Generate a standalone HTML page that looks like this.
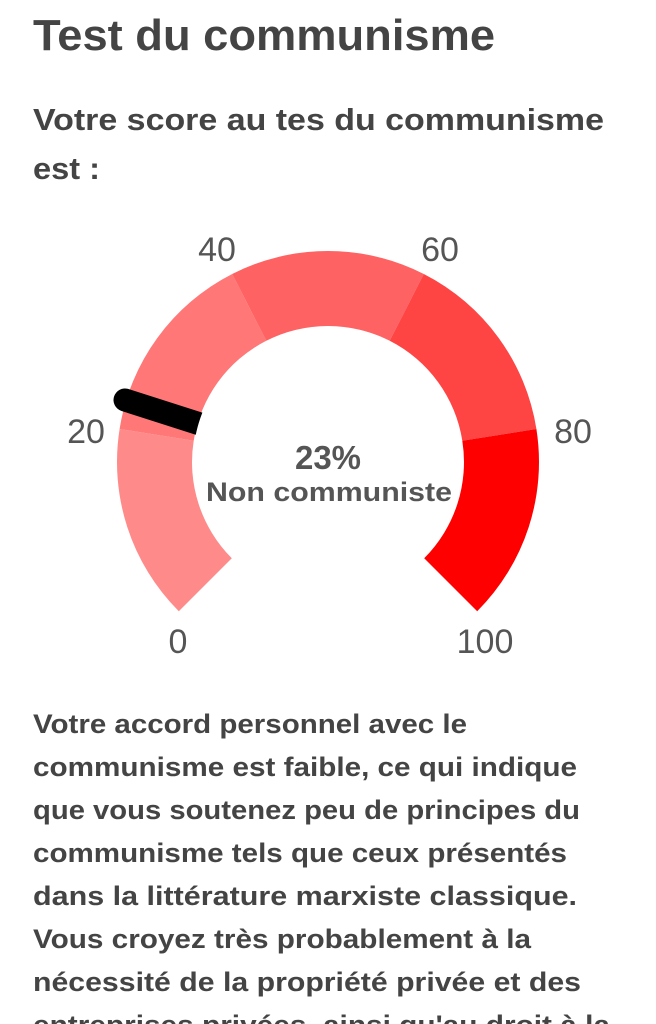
<!DOCTYPE html>
<html><head><meta charset="utf-8"><style>
html,body{margin:0;padding:0;background:#fff;width:656px;height:1024px;overflow:hidden}
svg{display:block}
text{font-family:"Liberation Sans",sans-serif;fill:#444}
.b{font-weight:bold}
.t{fill:#555;font-size:34px;text-anchor:middle}
</style></head><body>
<svg width="656" height="1024" viewBox="0 0 656 1024">
<text class="b" x="33" y="50" font-size="44" textLength="462" lengthAdjust="spacingAndGlyphs">Test du communisme</text>
<text class="b" x="33" y="130" font-size="31" textLength="571" lengthAdjust="spacingAndGlyphs">Votre score au tes du communisme</text>
<text class="b" x="33" y="179" font-size="31" textLength="67" lengthAdjust="spacingAndGlyphs">est :</text>

<path d="M178.8,611.2 A211,211 0 0 1 119.6,429.0 L193.7,440.7 A136,136 0 0 0 231.8,558.2 Z" fill="#ff8a8a"/>
<path d="M119.6,429.0 A211,211 0 0 1 232.2,274.0 L266.3,340.8 A136,136 0 0 0 193.7,440.7 Z" fill="#ff7777"/>
<path d="M232.2,274.0 A211,211 0 0 1 423.8,274.0 L389.7,340.8 A136,136 0 0 0 266.3,340.8 Z" fill="#ff6262"/>
<path d="M423.8,274.0 A211,211 0 0 1 536.4,429.0 L462.3,440.7 A136,136 0 0 0 389.7,340.8 Z" fill="#ff4444"/>
<path d="M536.4,429.0 A211,211 0 0 1 477.2,611.2 L424.2,558.2 A136,136 0 0 0 462.3,440.7 Z" fill="#ff0000"/>
<defs><clipPath id="c"><path d="M0,0 H656 V700 H0 Z M328,327 A135,135 0 1 0 328.01,327 Z" clip-rule="evenodd"/></clipPath></defs>
<path d="M125,400 L200,424" stroke="#000" stroke-width="23" stroke-linecap="round" clip-path="url(#c)"/>

<text class="b" x="328" y="469" font-size="33" text-anchor="middle" style="fill:#555">23%</text>
<text class="b" x="329" y="501" font-size="27" text-anchor="middle" textLength="246" lengthAdjust="spacingAndGlyphs" style="fill:#555">Non communiste</text>

<text class="t" x="178" y="653">0</text>
<text class="t" x="86" y="443">20</text>
<text class="t" x="217" y="261">40</text>
<text class="t" x="440" y="261">60</text>
<text class="t" x="573" y="443">80</text>
<text class="t" x="485" y="653">100</text>

<g font-size="27">
<text class="b" x="33" y="733" textLength="434" lengthAdjust="spacingAndGlyphs">Votre accord personnel avec le</text>
<text class="b" x="33" y="776" textLength="544" lengthAdjust="spacingAndGlyphs">communisme est faible, ce qui indique</text>
<text class="b" x="33" y="819" textLength="547" lengthAdjust="spacingAndGlyphs">que vous soutenez peu de principes du</text>
<text class="b" x="33" y="862" textLength="534" lengthAdjust="spacingAndGlyphs">communisme tels que ceux présentés</text>
<text class="b" x="33" y="905" textLength="544" lengthAdjust="spacingAndGlyphs">dans la littérature marxiste classique.</text>
<text class="b" x="33" y="948" textLength="498" lengthAdjust="spacingAndGlyphs">Vous croyez très probablement à la</text>
<text class="b" x="33" y="991" textLength="548" lengthAdjust="spacingAndGlyphs">nécessité de la propriété privée et des</text>
<text class="b" x="33" y="1034" textLength="577" lengthAdjust="spacingAndGlyphs">entreprises privées, ainsi qu'au droit à la</text>
</g>
</svg>
</body></html>
